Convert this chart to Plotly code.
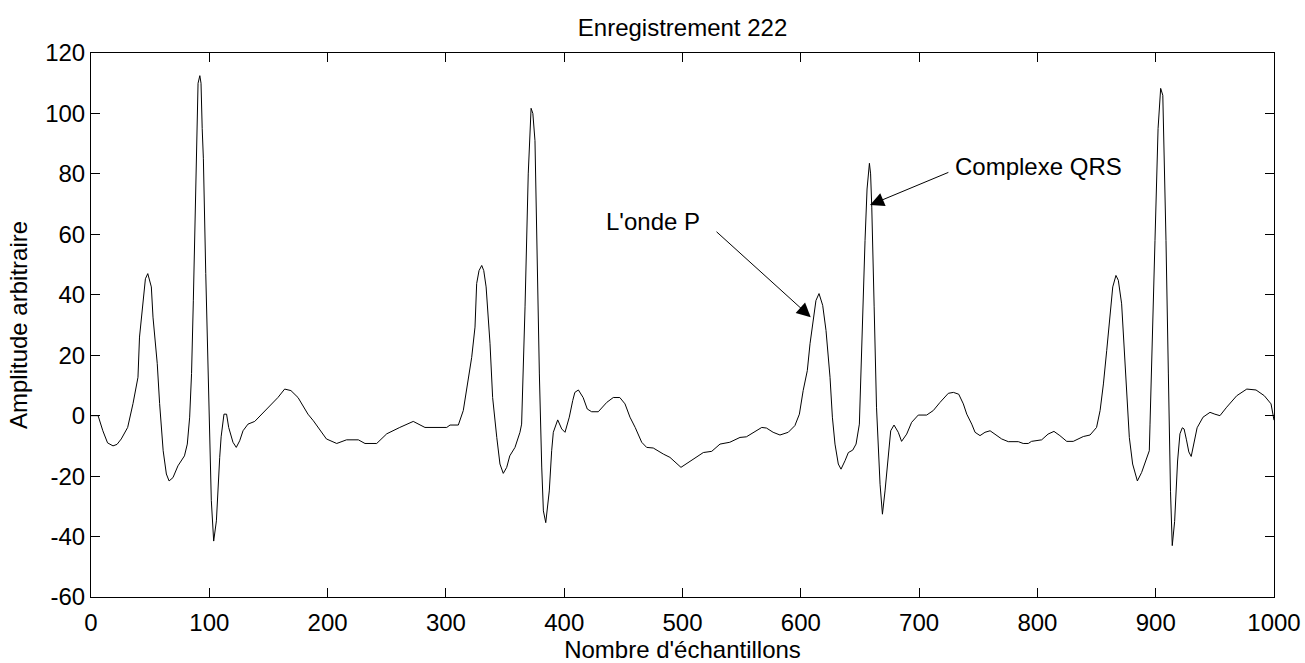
import plotly.graph_objects as go

# Sample index (x) and amplitude (y)
samples = [0, 6, 10, 14, 18.6, 22, 25.6, 31, 35.5, 39.7, 41, 44, 46, 48, 51, 52.4, 56, 58, 61, 63.7,
           66, 69.3, 73.5, 79, 81.4, 83.4, 85, 86.5, 88, 89.5, 90.5, 92, 93, 94, 95, 97, 99, 101.7, 103.7, 106,
           108.8, 110, 112.4, 114.6, 116.4, 120, 122.8, 125.7, 128.5, 132.7, 138.4, 148, 158, 163.7, 169, 175,
           183.4, 188, 194, 199, 207.7, 216, 226, 231.6, 241.5, 250, 261, 272.4, 282.3, 300.7, 303.5, 310.5,
           314.7, 317.6, 321.8, 324.6, 326, 328, 330.3, 332, 334, 337.3, 339.5, 343, 345.7, 348.5, 351.4, 354,
           358.4, 362.6, 364, 366.9, 369.6, 372, 373.5, 375.3, 376.7, 379, 381, 382.4, 384.4, 387.4, 389.4,
           390.8, 394.5, 397.9, 400.7, 404.3, 407.2, 409, 412, 416, 419.5, 423.2, 428.8, 436, 441.5, 447,
           451.4, 455.6, 460, 465.5, 469.7, 475.3, 483.8, 489.4, 498.7, 503.5, 512, 517.6, 524.7, 531.7, 540,
           548.6, 554, 559.9, 567, 571, 576.6, 582.4, 589.4, 595, 598.8, 602, 605.5, 607.8, 610.6, 612.8,
           615.4, 618.5, 621.3, 624.7, 626.7, 628.9, 631.7, 634, 637.4, 640.2, 643.9, 646.7, 649.5, 651.5,
           653.5, 654.3, 656, 658, 659, 660, 662, 664, 667, 669, 671.2, 674, 676, 678.8, 682.4, 685.2, 689.5,
           693.7, 699.3, 706.4, 712, 717.7, 724.7, 729, 733.5, 737.4, 740.3, 744.5, 747.3, 751.5, 755.7, 760,
           764, 769.8, 775.4, 783.9, 788, 792.3, 795, 803.6, 809, 814, 819, 824.8, 830.3, 838.8, 844.5, 850,
           853, 855.8, 858.6, 861.4, 863.7, 866.4, 868.4, 871.2, 873.2, 875.4, 877.7, 880.5, 884.5, 888.1,
           891.8, 894.6, 895.2, 897.4, 899.4, 902, 904.2, 906, 907, 908.7, 910.7, 912.5, 914, 916, 918.5,
           920.5, 922.5, 924, 926, 928, 930, 932, 935, 940, 945.9, 950, 954.3, 960, 968.5, 977, 984.8, 991.8,
           997.5, 1000]
amplitude = [0, 0, -5, -9, -10, -9.5, -7.7, -3.9, 4, 12.7, 26, 38, 45.3, 47, 42.6, 32.6, 17.2, 4, -11.6, -19.3,
             -21.6, -20.5, -16.6, -13.3, -9.4, -0.5, 14, 38, 69, 100, 110, 112.5, 110, 95, 85, 47, 12, -28, -41.5, -34.8,
             -13.8, -7, 0.5, 0.5, -3.9, -8.8, -10.5, -8.3, -5, -2.8, -1.9, 2, 6, 8.8, 8.3, 6,
             0.5, -1.7, -5, -7.7, -9.2, -8, -8, -9.2, -9.2, -6, -3.9, -1.9, -3.9, -3.9, -3.1, -3.1,
             1.7, 8.3, 19.3, 29.3, 43.7, 48, 49.7, 48, 42.6, 23.8, 6, -7.2, -16, -19.1, -17.1, -13.3,
             -10.5, -5.5, -2.8, 36, 80, 101.7, 100, 91, 58, 13.8, -17, -31.5, -35.4, -24.9, -11.6,
             -5.5, -1.4, -4.4, -5.5, -0.5, 5, 7.7, 8.5, 6, 2.2, 1.3, 1.3, 4.4, 6, 6,
             3.9, -0.5, -3.9, -8.8, -10.5, -10.7, -12.7, -13.8, -17.1, -15.8, -13.8, -12.2, -11.8, -9.4, -8.8,
             -7.2, -7, -5.5, -3.9, -4.1, -5.5, -6.4, -5.5, -3.3, 0.5, 8.3, 14.9, 23.8, 32.6, 38.1,
             40.4, 36.5, 28.2, 12.7, -0.5, -9.4, -16, -17.7, -14.9, -12.2, -11.4, -9.4, -2.8, 24,
             43.7, 58, 75, 83.5, 80, 69, 36, 2.8, -22.7, -32.6, -24.9, -11.6, -5, -3.1, -5.5, -8.5, -6.1,
             -2.2, 0.2, 0.2, 1.7, 4.4, 7.4, 7.7, 7.1, 3.9, 0.5, -2.8, -5.5, -6.6, -5.5, -5,
             -6.1, -7.7, -8.6, -8.6, -9.2, -9.2, -8.5, -8, -6.1, -5.2, -6.6, -8.5, -8.5, -6.9, -6.4, -3.9,
             1.7, 10.5, 21.6, 32.6, 42.6, 46.4, 44.8, 37, 23.8, 10.5, -7.2, -16, -21.6, -18.8,
             -14.9, -11.6, -2.8, 24.9, 58, 95, 108.3, 106, 91, 58, 13.8, -25, -43, -35, -15,
             -6, -4, -4.4, -8, -12, -13.5, -10, -4, -0.5, 1.1, 0.5, 0, 2.8, 6.6, 8.8, 8.5, 6.6,
             3.9, -1.5]

x_ticks = [0, 100, 200, 300, 400, 500, 600, 700, 800, 900, 1000]
y_ticks = [-60, -40, -20, 0, 20, 40, 60, 80, 100, 120]

title_text = "Enregistrement 222"
x_label = "Nombre d'échantillons"
y_label = "Amplitude arbitraire"

# Annotations: label, label position, arrow tail, arrow head (data coords)
ann_labels = ["L'onde P", "Complexe QRS"]
ann_label_pos = [(475, 64.3), (801, 82.6)]
ann_tail = [(527.5, 61.3), (726, 80.7)]
ann_head = [(608.4, 32.6), (658.5, 69.7)]

FONT = "Liberation Sans, Arial, sans-serif"
FS = 24

fig = go.Figure()
fig.add_trace(go.Scatter(x=samples, y=amplitude, mode="lines",
                         line=dict(color="black", width=1), showlegend=False,
                         hoverinfo="skip"))

for lab, pos, tail, head in zip(ann_labels, ann_label_pos, ann_tail, ann_head):
    fig.add_annotation(x=head[0], y=head[1], ax=tail[0], ay=tail[1],
                       xref="x", yref="y", axref="x", ayref="y",
                       text="", showarrow=True, arrowhead=2, arrowsize=2.8,
                       arrowwidth=1, arrowcolor="black")
    fig.add_annotation(x=pos[0], y=pos[1], xref="x", yref="y", text=lab,
                       showarrow=False, xanchor="center", yanchor="middle",
                       font=dict(family=FONT, size=FS, color="black"))

axis_common = dict(showline=True, linecolor="black", linewidth=1, mirror="allticks",
                   ticks="inside", ticklen=9, tickcolor="black", tickwidth=1,
                   showgrid=False, zeroline=False, automargin=False,
                   tickfont=dict(family=FONT, size=FS, color="black"))

fig.update_layout(
    width=1305, height=663,
    margin=dict(l=91, r=31, t=53, b=66),
    paper_bgcolor="white", plot_bgcolor="white",
    title=dict(text=title_text, x=0.523, xanchor="center", y=0.958, yanchor="middle",
               font=dict(family=FONT, size=FS, color="black")),
    xaxis=dict(range=[0, 1000], tickvals=x_ticks, ticktext=[str(v) for v in x_ticks],
               ticklabelstandoff=4,
               title=dict(text=x_label, standoff=10, font=dict(family=FONT, size=FS, color="black")),
               **axis_common),
    yaxis=dict(range=[-60, 120], tickvals=y_ticks, ticktext=[str(v) for v in y_ticks],
               title=dict(text=y_label, standoff=10, font=dict(family=FONT, size=FS, color="black")),
               **axis_common),
)

fig.write_html("out.html", config={"displayModeBar": False})
